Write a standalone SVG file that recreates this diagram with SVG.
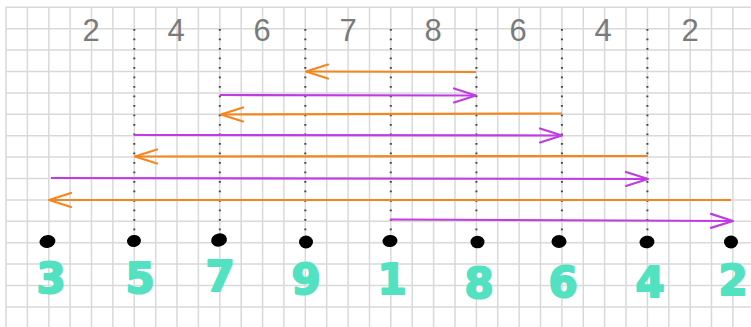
<svg xmlns="http://www.w3.org/2000/svg" width="751" height="327" viewBox="0 0 751 327">
<defs>
<style>
.grid line{stroke:#d9d9d9;stroke-width:1.5}
.dot-line{stroke:#444;stroke-width:2;stroke-dasharray:1.8 7.7;fill:none}
.dot{fill:#000}
.lbl{font-family:"DejaVu Sans","Liberation Sans",sans-serif;font-weight:bold;font-size:42px;fill:#52e2c2;stroke:#52e2c2;stroke-width:2;stroke-linejoin:round;text-anchor:middle}
.gap{font-family:"Liberation Sans",Arial,sans-serif;font-size:31px;fill:#7a7a7a;text-anchor:middle}
.or{stroke:#f5851f;stroke-width:2.2;fill:none;marker-end:url(#ah-o)}
.pu{stroke:#c13be3;stroke-width:2.2;fill:none;marker-end:url(#ah-p)}
</style>
<marker id="ah-o" markerUnits="userSpaceOnUse" viewBox="0 0 26 18" refX="24" refY="9" markerWidth="26" markerHeight="18" orient="auto">
<path d="M2,2 L24,9 L2,16" fill="none" stroke="#f5851f" stroke-width="2.2" stroke-linecap="round" stroke-linejoin="round"/>
</marker>
<marker id="ah-p" markerUnits="userSpaceOnUse" viewBox="0 0 26 18" refX="24" refY="9" markerWidth="26" markerHeight="18" orient="auto">
<path d="M2,2 L24,9 L2,16" fill="none" stroke="#c13be3" stroke-width="2.2" stroke-linecap="round" stroke-linejoin="round"/>
</marker>
</defs>
<rect width="751" height="327" fill="#fff"/>
<g class="grid">
<line x1="6" y1="7" x2="6" y2="327"/><line x1="27.4" y1="7" x2="27.4" y2="327"/><line x1="48.8" y1="7" x2="48.8" y2="327"/><line x1="70.1" y1="7" x2="70.1" y2="327"/><line x1="91.5" y1="7" x2="91.5" y2="327"/><line x1="112.9" y1="7" x2="112.9" y2="327"/><line x1="134.3" y1="7" x2="134.3" y2="327"/><line x1="155.7" y1="7" x2="155.7" y2="327"/><line x1="177" y1="7" x2="177" y2="327"/><line x1="198.4" y1="7" x2="198.4" y2="327"/><line x1="219.8" y1="7" x2="219.8" y2="327"/><line x1="241.2" y1="7" x2="241.2" y2="327"/><line x1="262.6" y1="7" x2="262.6" y2="327"/><line x1="283.9" y1="7" x2="283.9" y2="327"/><line x1="305.3" y1="7" x2="305.3" y2="327"/><line x1="326.7" y1="7" x2="326.7" y2="327"/><line x1="348.1" y1="7" x2="348.1" y2="327"/><line x1="369.5" y1="7" x2="369.5" y2="327"/><line x1="390.8" y1="7" x2="390.8" y2="327"/><line x1="412.2" y1="7" x2="412.2" y2="327"/><line x1="433.6" y1="7" x2="433.6" y2="327"/><line x1="455" y1="7" x2="455" y2="327"/><line x1="476.4" y1="7" x2="476.4" y2="327"/><line x1="497.7" y1="7" x2="497.7" y2="327"/><line x1="519.1" y1="7" x2="519.1" y2="327"/><line x1="540.5" y1="7" x2="540.5" y2="327"/><line x1="561.9" y1="7" x2="561.9" y2="327"/><line x1="583.3" y1="7" x2="583.3" y2="327"/><line x1="604.6" y1="7" x2="604.6" y2="327"/><line x1="626" y1="7" x2="626" y2="327"/><line x1="647.4" y1="7" x2="647.4" y2="327"/><line x1="668.8" y1="7" x2="668.8" y2="327"/><line x1="690.2" y1="7" x2="690.2" y2="327"/><line x1="711.5" y1="7" x2="711.5" y2="327"/><line x1="732.9" y1="7" x2="732.9" y2="327"/>
<line x1="6" y1="7.3" x2="751" y2="7.3"/><line x1="6" y1="28.7" x2="751" y2="28.7"/><line x1="6" y1="50.1" x2="751" y2="50.1"/><line x1="6" y1="71.5" x2="751" y2="71.5"/><line x1="6" y1="92.9" x2="751" y2="92.9"/><line x1="6" y1="114.3" x2="751" y2="114.3"/><line x1="6" y1="135.7" x2="751" y2="135.7"/><line x1="6" y1="157.1" x2="751" y2="157.1"/><line x1="6" y1="178.5" x2="751" y2="178.5"/><line x1="6" y1="199.9" x2="751" y2="199.9"/><line x1="6" y1="221.3" x2="751" y2="221.3"/><line x1="6" y1="242.7" x2="751" y2="242.7"/><line x1="6" y1="264.1" x2="751" y2="264.1"/><line x1="6" y1="285.5" x2="751" y2="285.5"/><line x1="6" y1="306.9" x2="751" y2="306.9"/>
</g>
<g id="gaps">
<text class="gap" x="91" y="41">2</text>
<text class="gap" x="176" y="41">4</text>
<text class="gap" x="262" y="41">6</text>
<text class="gap" x="348" y="41">7</text>
<text class="gap" x="433" y="41">8</text>
<text class="gap" x="518" y="41">6</text>
<text class="gap" x="603" y="41">4</text>
<text class="gap" x="690" y="41">2</text>
</g>
<g id="node-3"><ellipse class="dot" cx="47.5" cy="241.5" rx="8" ry="6.3" transform="rotate(-12 47.5 241.5)"/><text class="lbl" x="51" y="293">3</text></g>
<g id="node-5"><path class="dot-line" d="M134.3,29 V234"/><ellipse class="dot" cx="134" cy="241" rx="7" ry="6" transform="rotate(-8 134 241)"/><text class="lbl" x="140" y="293">5</text></g>
<g id="node-7"><path class="dot-line" d="M219.8,29 V234"/><ellipse class="dot" cx="219" cy="240" rx="8" ry="6.5" transform="rotate(-15 219 240)"/><text class="lbl" x="220" y="291">7</text></g>
<g id="node-9"><path class="dot-line" d="M305.3,29 V234"/><ellipse class="dot" cx="306" cy="242" rx="7" ry="6.5"/><text class="lbl" x="306" y="294">9</text></g>
<g id="node-1"><path class="dot-line" d="M390.8,29 V234"/><ellipse class="dot" cx="390" cy="241" rx="7.5" ry="6" transform="rotate(-8 390 241)"/><text class="lbl" x="392" y="294">1</text></g>
<g id="node-8"><path class="dot-line" d="M476.4,29 V234"/><ellipse class="dot" cx="477.5" cy="242" rx="7" ry="6.3"/><text class="lbl" x="479" y="298">8</text></g>
<g id="node-6"><path class="dot-line" d="M561.9,29 V234"/><ellipse class="dot" cx="559" cy="241.5" rx="7.5" ry="6.5"/><text class="lbl" x="563" y="297">6</text></g>
<g id="node-4"><path class="dot-line" d="M647.4,29 V234"/><ellipse class="dot" cx="647" cy="242" rx="7.5" ry="6.3" transform="rotate(-10 647 242)"/><text class="lbl" x="650" y="297">4</text></g>
<g id="node-2"><ellipse class="dot" cx="731" cy="242" rx="7" ry="6.5"/><text class="lbl" x="733" y="295">2</text></g>
<g id="connectors">
<path class="or" d="M476,72 L306,71.5"/>
<path class="pu" d="M220,95 L476,95.5"/>
<path class="or" d="M562,113.5 L221,114.5"/>
<path class="pu" d="M134,135 L562,135.5"/>
<path class="or" d="M648,156 L135,156.5"/>
<path class="pu" d="M51,178 L648,179"/>
<path class="or" d="M731,200 L49,200"/>
<path class="pu" d="M390,219.5 L733,221"/>
</g>
</svg>
